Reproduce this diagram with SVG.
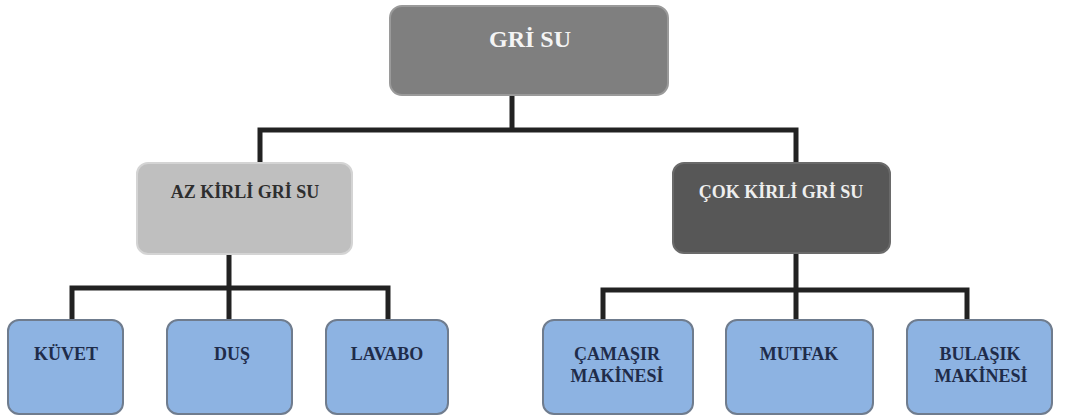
<svg xmlns="http://www.w3.org/2000/svg" width="1075" height="417" viewBox="0 0 1075 417">
  <style>
    .lbl { font-family: "Liberation Serif", "DejaVu Serif", serif; font-weight: bold; text-anchor: middle; }
    .leaf rect { fill: #8db3e2; stroke: #6f7c8e; stroke-width: 2; }
    .leaf text { fill: #1f2c4a; font-size: 18px; }
    .wire { fill: none; stroke: #222222; stroke-width: 5; stroke-linejoin: miter; }
  </style>
  <rect width="1075" height="417" fill="#ffffff"/>

  <!-- connectors -->
  <g id="connectors" class="wire">
    <path d="M512 95 V130 M260 163 V130 H796 V163"/>
    <path d="M229 255 V288 M72 320 V288 H388 V320 M229 288 V320"/>
    <path d="M796 253 V290 M603 320 V290 H967 V320 M796 290 V320"/>
  </g>

  <!-- root -->
  <g id="gri-su">
    <rect x="390" y="6" width="278" height="89" rx="12" fill="#7f7f7f" stroke="#9a9a9a" stroke-width="2"/>
    <text class="lbl" x="530" y="47" font-size="24" fill="#f4f4f4">GRİ SU</text>
  </g>

  <!-- second level -->
  <g id="az-kirli">
    <rect x="137" y="163" width="215" height="91" rx="11" fill="#bfbfbf" stroke="#d4d4d4" stroke-width="2"/>
    <text class="lbl" x="245" y="198" font-size="18" fill="#2e2e2e">AZ KİRLİ GRİ SU</text>
  </g>
  <g id="cok-kirli">
    <rect x="673" y="163" width="217" height="90" rx="11" fill="#575757" stroke="#6a6a6a" stroke-width="2"/>
    <text class="lbl" x="781" y="198" font-size="18" fill="#eeeeee">ÇOK KİRLİ GRİ SU</text>
  </g>

  <!-- leaves -->
  <g id="kuvet" class="leaf">
    <rect x="8" y="320" width="115" height="94" rx="11"/>
    <text class="lbl" x="66" y="360">KÜVET</text>
  </g>
  <g id="dus" class="leaf">
    <rect x="167" y="320" width="125" height="94" rx="11"/>
    <text class="lbl" x="232" y="360">DUŞ</text>
  </g>
  <g id="lavabo" class="leaf">
    <rect x="326" y="320" width="122" height="94" rx="11"/>
    <text class="lbl" x="387" y="360">LAVABO</text>
  </g>
  <g id="camasir" class="leaf">
    <rect x="543" y="320" width="150" height="94" rx="11"/>
    <text class="lbl" x="617" y="360">ÇAMAŞIR</text>
    <text class="lbl" x="617" y="382">MAKİNESİ</text>
  </g>
  <g id="mutfak" class="leaf">
    <rect x="726" y="320" width="147" height="94" rx="11"/>
    <text class="lbl" x="799" y="360">MUTFAK</text>
  </g>
  <g id="bulasik" class="leaf">
    <rect x="907" y="320" width="145" height="94" rx="11"/>
    <text class="lbl" x="980" y="360">BULAŞIK</text>
    <text class="lbl" x="981" y="382">MAKİNESİ</text>
  </g>
</svg>
